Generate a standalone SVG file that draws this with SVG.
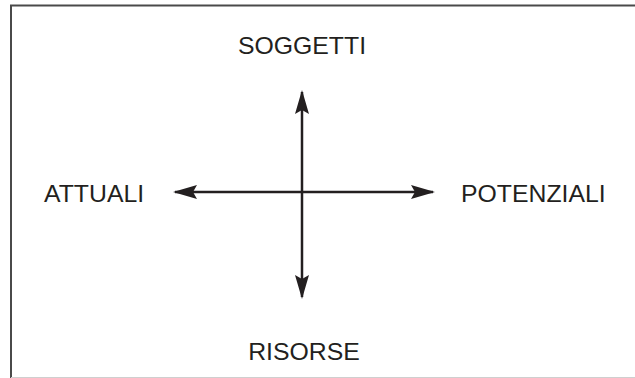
<svg xmlns="http://www.w3.org/2000/svg" width="635" height="378" viewBox="0 0 635 378">
<style>
.lbl{font-family:"Liberation Sans",Arial,sans-serif;font-size:24.8px;fill:#231f20}
.ax{stroke:#231f20;stroke-width:2.5;fill:none}
</style>
<defs>
<marker id="ah" viewBox="0 0 24 16" refX="22" refY="8" markerWidth="24" markerHeight="16" markerUnits="userSpaceOnUse" orient="auto">
<path d="M0,1 L24,8 L0,15 L4,8 Z" fill="#231f20"/>
</marker>
</defs>
<rect width="635" height="378" fill="#ffffff"/>
<g id="frame">
<path d="M11,378 V5.5 H635" fill="none" stroke="#4a4a4a" stroke-width="2"/>
<line x1="11" y1="377.5" x2="635" y2="377.5" stroke="#cfcfcf" stroke-width="1"/>
</g>
<g id="connectors">
<line class="ax" x1="302" y1="192" x2="302" y2="92" marker-end="url(#ah)"/>
<line class="ax" x1="302" y1="192" x2="302" y2="297" marker-end="url(#ah)"/>
<line class="ax" x1="302" y1="192" x2="175" y2="192" marker-end="url(#ah)"/>
<line class="ax" x1="302" y1="192" x2="433" y2="192" marker-end="url(#ah)"/>
</g>
<g id="soggetti"><text class="lbl" x="302" y="54" text-anchor="middle">SOGGETTI</text></g>
<g id="attuali"><text class="lbl" x="44" y="202">ATTUALI</text></g>
<g id="potenziali"><text class="lbl" x="461" y="202">POTENZIALI</text></g>
<g id="risorse"><text class="lbl" x="304" y="360" text-anchor="middle">RISORSE</text></g>
</svg>
